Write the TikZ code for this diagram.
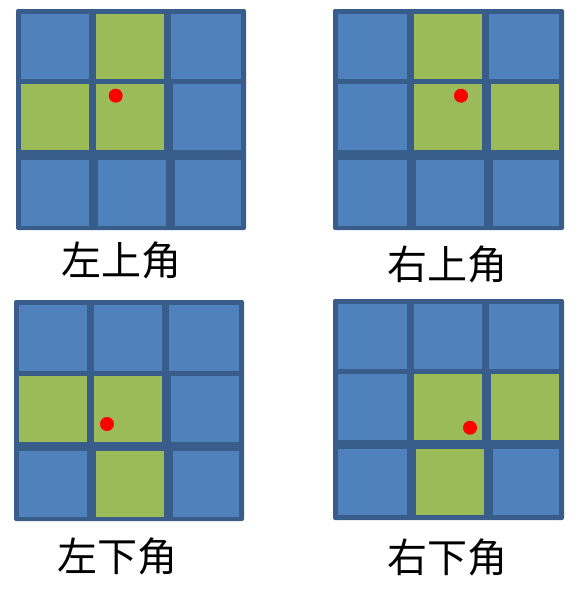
\documentclass[tikz,border=0pt]{standalone}
\usepackage{fontspec}
\newfontfamily\cjk{Noto Sans CJK SC}
\definecolor{cellblue}{HTML}{4F81BD}
\definecolor{cellgreen}{HTML}{9BBB59}
\definecolor{cellline}{HTML}{385D8A}
\begin{document}
\begin{tikzpicture}[x=1pt,y=-1pt,
  frame/.style={fill=cellline,rounded corners=2pt},
  bluecell/.style={fill=cellblue},
  greencell/.style={fill=cellgreen},
  reddot/.style={fill=red},
  caption/.style={inner sep=0pt,font=\fontsize{40}{48}\selectfont\cjk}]
\path[use as bounding box] (0,0) rectangle (579,589);
% 左上角
\path[frame] (16,9) rectangle (246,230);
\path[bluecell] (21,14) rectangle (89,79);
\path[greencell] (96,14) rectangle (164,79);
\path[bluecell] (171,14) rectangle (241,79);
\path[greencell] (21,84) rectangle (89,150);
\path[greencell] (96,84) rectangle (164,150);
\path[bluecell] (173,84) rectangle (241,150);
\path[bluecell] (21,160) rectangle (89,226);
\path[bluecell] (98,160) rectangle (166,226);
\path[bluecell] (175,160) rectangle (241,226);
\path[reddot] (115.7,95.7) circle (7);
\node[caption] (lu) at (121,260) {左上角};
% 右上角
\path[frame] (333,9) rectangle (564,230);
\path[bluecell] (338,14) rectangle (407,79);
\path[greencell] (414,14) rectangle (482,79);
\path[bluecell] (489,14) rectangle (559,79);
\path[bluecell] (338,84) rectangle (407,150);
\path[greencell] (414,84) rectangle (482,150);
\path[greencell] (491,84) rectangle (559,150);
\path[bluecell] (338,160) rectangle (407,226);
\path[bluecell] (416,160) rectangle (484,226);
\path[bluecell] (493,160) rectangle (559,226);
\path[reddot] (461,95.7) circle (7);
\node[caption] (ru) at (447,264) {右上角};
% 左下角
\path[frame] (14,300) rectangle (244,521);
\path[bluecell] (19,305) rectangle (87,371);
\path[bluecell] (94,305) rectangle (162,371);
\path[bluecell] (169,305) rectangle (239,371);
\path[greencell] (19,376) rectangle (87,442);
\path[greencell] (94,376) rectangle (162,442);
\path[bluecell] (171,376) rectangle (239,442);
\path[bluecell] (19,451) rectangle (87,517);
\path[greencell] (96,451) rectangle (164,517);
\path[bluecell] (173,451) rectangle (239,517);
\path[reddot] (107,424) circle (7);
\node[caption] (ld) at (117,556) {左下角};
% 右下角
\path[frame] (333,299) rectangle (564,520);
\path[bluecell] (338,304) rectangle (407,369);
\path[bluecell] (414,304) rectangle (482,369);
\path[bluecell] (489,304) rectangle (559,369);
\path[bluecell] (338,374) rectangle (407,440);
\path[greencell] (414,374) rectangle (482,440);
\path[greencell] (491,374) rectangle (559,440);
\path[bluecell] (338,449) rectangle (407,515);
\path[greencell] (416,449) rectangle (484,515);
\path[bluecell] (493,449) rectangle (559,515);
\path[reddot] (470,427.7) circle (7);
\node[caption] (rd) at (447,557) {右下角};
\end{tikzpicture}
\end{document}
